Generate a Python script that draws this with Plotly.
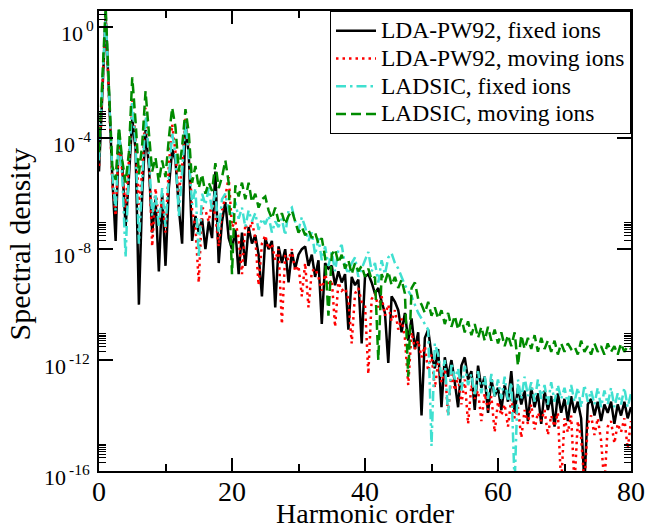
import numpy as np
import plotly.graph_objects as go

# Harmonic-order grid (sampled every half harmonic)
harmonic_order = np.arange(0, 80.001, 0.5)

# log10 of the spectral density for each run
lda_fixed_log10 = [
    -5.2, -2.3, 0.4, -2.4, -5.4, -7.7, -3.8, -5.0, -7.2, -5.4,
    -3.3, -4.4, -10.0, -6.0, -3.7, -5.0, -7.4, -6.2, -8.8, -6.0,
    -8.6, -5.8, -4.4, -4.8, -6.5, -7.8, -3.4, -4.6, -7.7, -6.8,
    -7.4, -6.9, -8.0, -7.0, -7.6, -5.2, -8.5, -7.0, -6.3, -7.6,
    -8.0, -7.3, -8.9, -7.4, -8.6, -7.2, -7.8, -7.5, -8.2, -9.7,
    -7.6, -8.0, -7.7, -10.1, -7.9, -8.5, -8.0, -9.2, -8.1, -8.7,
    -8.2, -8.0, -7.9, -8.6, -8.2, -9.0, -8.4, -10.7, -8.5, -8.7,
    -8.6, -9.3, -8.8, -9.2, -8.9, -10.9, -9.0, -9.3, -9.1, -11.4,
    -9.0, -8.9, -9.2, -9.6, -9.4, -9.9, -10.3, -12.1, -9.7, -9.9,
    -10.2, -11.0, -10.3, -11.3, -10.5, -11.6, -11.0, -14.0, -11.2, -10.9,
    -11.8, -12.3, -11.6, -13.7, -11.9, -12.6, -12.0, -12.8, -13.7, -12.2,
    -11.9, -12.7, -12.4, -13.8, -12.2, -13.0, -12.6, -13.9, -12.7, -13.3,
    -13.0, -13.8, -12.9, -13.5, -12.4, -13.9, -13.0, -13.6, -13.1, -14.2,
    -13.0, -13.7, -13.2, -14.3, -13.1, -13.8, -13.3, -14.4, -13.2, -13.9,
    -13.4, -14.2, -13.3, -13.9, -13.5, -14.1, -16.5, -13.6, -13.4, -14.0,
    -13.5, -14.2, -13.6, -13.9, -13.5, -14.3, -13.6, -14.0, -13.5, -14.1,
    -13.7,
]

lda_moving_log10 = [
    -5.0, -2.2, 0.5, -2.5, -5.6, -6.8, -4.0, -5.2, -6.5, -4.8,
    -2.6, -4.0, -6.4, -5.2, -2.9, -4.6, -7.9, -5.8, -7.0, -6.2,
    -7.4, -5.0, -3.5, -4.5, -6.0, -5.0, -3.3, -4.4, -6.6, -7.2,
    -9.2, -6.5, -6.6, -7.0, -6.3, -6.8, -7.9, -6.6, -6.1, -5.4,
    -7.2, -7.0, -7.6, -8.9, -7.1, -7.4, -7.0, -7.6, -9.3, -7.8,
    -7.5, -8.0, -7.8, -8.4, -8.0, -10.7, -8.2, -8.4, -8.0, -8.8,
    -8.6, -9.7, -8.5, -10.1, -8.8, -8.7, -9.0, -9.5, -8.9, -9.3,
    -9.1, -10.8, -9.2, -9.5, -9.4, -9.8, -11.4, -9.6, -9.4, -9.9,
    -10.0, -12.5, -9.8, -9.6, -10.1, -9.7, -10.4, -10.0, -10.6, -10.2,
    -10.9, -10.5, -11.2, -12.9, -11.0, -11.6, -11.3, -11.9, -11.5, -12.4,
    -11.8, -13.0, -12.1, -12.8, -12.3, -14.0, -12.4, -13.1, -12.6, -13.6,
    -12.7, -14.3, -12.9, -13.4, -13.1, -14.2, -13.2, -13.8, -13.3, -14.6,
    -13.5, -14.0, -13.6, -14.4, -13.4, -14.1, -13.7, -14.8, -13.8, -14.3,
    -13.6, -14.5, -13.9, -14.2, -13.8, -14.7, -14.0, -14.4, -13.9, -16.5,
    -14.1, -14.6, -14.0, -16.5, -14.2, -14.8, -16.5, -14.3, -14.0, -14.7,
    -14.1, -14.9, -16.5, -14.4, -14.2, -15.0, -14.3, -14.6, -14.1, -15.2,
    -14.2,
]

ladsic_fixed_log10 = [
    -4.8, -2.1, 0.5, -2.4, -5.3, -6.6, -3.7, -5.4, -8.3, -5.0,
    -2.7, -4.2, -7.8, -5.5, -3.1, -4.6, -6.8, -6.0, -7.2, -5.8,
    -7.2, -5.4, -3.8, -4.6, -6.8, -5.2, -3.4, -4.6, -6.4, -5.8,
    -8.3, -6.0, -6.4, -5.8, -6.6, -5.9, -7.4, -6.2, -6.0, -6.6,
    -6.8, -6.3, -6.9, -6.5, -7.2, -6.6, -7.0, -6.7, -7.3, -6.9,
    -7.1, -6.8, -7.4, -7.0, -7.2, -6.9, -7.5, -6.6, -6.5, -7.0,
    -7.3, -6.85, -7.2, -7.7, -7.4, -8.2, -7.6, -8.4, -7.9, -8.6,
    -8.1, -8.8, -8.0, -7.85, -8.6, -8.9, -8.5, -8.3, -9.0, -8.7,
    -8.4, -8.1, -8.8, -8.5, -9.2, -8.4, -8.9, -8.3, -8.15, -8.5,
    -8.7, -9.0, -9.3, -9.5, -9.7, -10.0, -10.3, -10.5, -10.7, -10.9,
    -15.1, -11.4, -11.8, -12.6, -12.0, -14.0, -12.1, -12.7, -12.3, -13.1,
    -12.2, -12.9, -12.5, -13.3, -12.4, -13.2, -12.6, -13.4, -12.5, -13.3,
    -12.7, -13.4, -12.6, -13.5, -12.8, -16.5, -12.7, -13.4, -12.6, -13.3,
    -12.8, -13.5, -12.7, -13.4, -12.9, -13.6, -12.8, -13.5, -12.9, -13.4,
    -13.0, -13.6, -12.9, -13.5, -13.0, -13.7, -12.9, -13.5, -13.1, -13.6,
    -13.0, -13.7, -13.1, -13.6, -13.0, -13.7, -13.2, -13.6, -13.0, -13.7,
    -13.2,
]

ladsic_moving_log10 = [
    -4.5, -1.8, 0.75, -2.2, -5.0, -5.5, -3.6, -4.8, -5.6, -4.5,
    -1.8, -3.4, -5.3, -4.2, -2.3, -3.8, -5.2, -4.7, -5.6, -4.8,
    -5.4, -4.0, -2.9, -3.6, -5.2, -4.3, -2.95, -3.8, -5.6, -5.0,
    -5.8, -5.3, -6.0, -5.6, -5.9, -4.9, -5.8, -5.4, -4.8, -5.6,
    -8.9, -5.7, -6.1, -5.6, -6.2, -5.6, -6.3, -6.0, -6.5, -6.2,
    -6.1, -6.6, -6.9, -6.5, -7.0, -6.7, -7.1, -6.8, -6.6, -7.0,
    -7.4, -7.2, -7.5, -7.3, -7.6, -7.4, -7.8, -7.6, -8.3, -10.4,
    -8.2, -8.0, -8.5, -8.2, -8.7, -8.4, -8.9, -8.5, -8.8, -8.6,
    -9.0, -8.7, -9.1, -9.0, -12.0, -8.9, -9.2, -8.8, -9.3, -9.0,
    -9.4, -9.1, -9.6, -12.6, -9.4, -9.2, -9.8, -10.0, -10.3, -9.9,
    -10.4, -10.1, -10.5, -10.2, -10.7, -10.3, -10.8, -10.4, -10.9, -10.5,
    -11.0, -10.6, -11.1, -10.7, -11.2, -10.8, -11.3, -10.8, -11.3, -10.9,
    -11.4, -11.0, -11.5, -11.1, -11.5, -11.0, -12.2, -11.1, -11.6, -11.2,
    -11.6, -11.1, -11.7, -11.2, -11.6, -11.3, -11.7, -11.3, -11.8, -11.4,
    -11.7, -11.4, -11.6, -11.5, -11.8, -11.3, -11.7, -11.5, -11.8, -11.4,
    -11.7, -11.5, -11.8, -11.4, -11.7, -11.5, -11.8, -11.4, -11.7, -11.5,
    -11.6,
]

series_names = [
    "LDA-PW92, fixed ions",
    "LDA-PW92, moving ions",
    "LADSIC, fixed ions",
    "LADSIC, moving ions",
]

# y-axis decades: base "10" with the exponent written as a superscript
y_tick_exponents = [-16, -12, -8, -4, 0]
y_tick_exponent_labels = ["-16", "-12", "-8", "-4", "0"]
x_tick_values = [0, 20, 40, 60, 80]

FONT = "Times New Roman, Liberation Serif, Times, serif"
BASE_SIZE = 22
SUP_SIZE = 15.5

styles = [
    dict(color="black", width=2.5, dash="solid"),
    dict(color="#ff0000", width=2.5, dash="2.5px,4px"),
    dict(color="#40e0d0", width=2.5, dash="10px,4px,2.5px,4px"),
    dict(color="#008b00", width=2.5, dash="10px,5px"),
]

fig = go.Figure()
for name, logs, style in zip(
    series_names,
    [lda_fixed_log10, lda_moving_log10, ladsic_fixed_log10, ladsic_moving_log10],
    styles,
):
    n = min(len(logs), len(harmonic_order))
    fig.add_trace(go.Scatter(
        x=harmonic_order[:n],
        y=np.power(10.0, np.array(logs[:n])),
        mode="lines",
        # larger label text inside compact legend rows
        name=f'<span style="font-size:23.5px">{name}</span>',
        line=style,
    ))

# minor log ticks: 2..9 x each labelled decade
minor_y = [k * 10.0 ** e for e in y_tick_exponents for k in range(2, 10)
           if k * 10.0 ** e < 10 ** 0.59]

fig.update_xaxes(
    range=[0, 80], automargin=False,
    tickmode="array", tickvals=x_tick_values,
    ticks="inside", ticklen=13, tickwidth=1.5, tickcolor="black",
    minor=dict(tickmode="linear", tick0=0, dtick=10, ticks="inside",
               ticklen=7, tickwidth=1.5, tickcolor="black"),
    showline=True, linewidth=2, linecolor="black", mirror="allticks",
    showgrid=False, zeroline=False,
    ticklabelstandoff=-6,
    tickfont=dict(family=FONT, size=28, color="black"),
)
fig.update_yaxes(
    type="log", automargin=False,
    range=[-16, 0.59],
    tickmode="array",
    tickvals=[10.0 ** e for e in y_tick_exponents],
    showticklabels=False,
    ticks="inside", ticklen=14, tickwidth=1.5, tickcolor="black",
    minor=dict(tickmode="array", tickvals=minor_y, ticks="inside",
               ticklen=7, tickwidth=1, tickcolor="black"),
    showline=True, linewidth=2, linecolor="black", mirror="allticks",
    showgrid=False, zeroline=False,
)

# decade labels beside each major y tick (log axis -> y given in log10 units)
for e, sup in zip(y_tick_exponents, y_tick_exponent_labels):
    sup_width = 0.55 * SUP_SIZE * len(sup)
    joint = -5 - sup_width  # px left of the axis where "10" ends
    fig.add_annotation(
        text="10", xref="paper", yref="y", x=0, y=e,
        xanchor="right", yanchor="middle", xshift=joint, yshift=-6,
        showarrow=False, font=dict(family=FONT, size=BASE_SIZE, color="black"),
    )
    fig.add_annotation(
        text=sup, xref="paper", yref="y", x=0, y=e,
        xanchor="left", yanchor="middle", xshift=joint - 1, yshift=2,
        showarrow=False, font=dict(family=FONT, size=SUP_SIZE, color="black"),
    )

fig.add_annotation(
    text="Spectral density", textangle=-90,
    xref="paper", yref="paper", x=-0.1476, y=0.4935,
    xanchor="center", yanchor="middle", showarrow=False,
    font=dict(family=FONT, size=30, color="black"),
)
fig.add_annotation(
    text="Harmonic order",
    xref="paper", yref="paper", x=0.5, y=-0.092,
    xanchor="center", yanchor="middle", showarrow=False,
    font=dict(family=FONT, size=28, color="black"),
)

fig.update_layout(
    width=646, height=531,
    margin=dict(l=99, r=15, t=11, b=60),
    plot_bgcolor="white", paper_bgcolor="white",
    showlegend=True,
    legend=dict(
        x=1, y=1, xanchor="right", yanchor="top",
        bgcolor="white", bordercolor="black", borderwidth=1,
        font=dict(family=FONT, size=19, color="black"),
        itemwidth=40, tracegroupgap=0,
    ),
)

fig.write_html("out.html")
